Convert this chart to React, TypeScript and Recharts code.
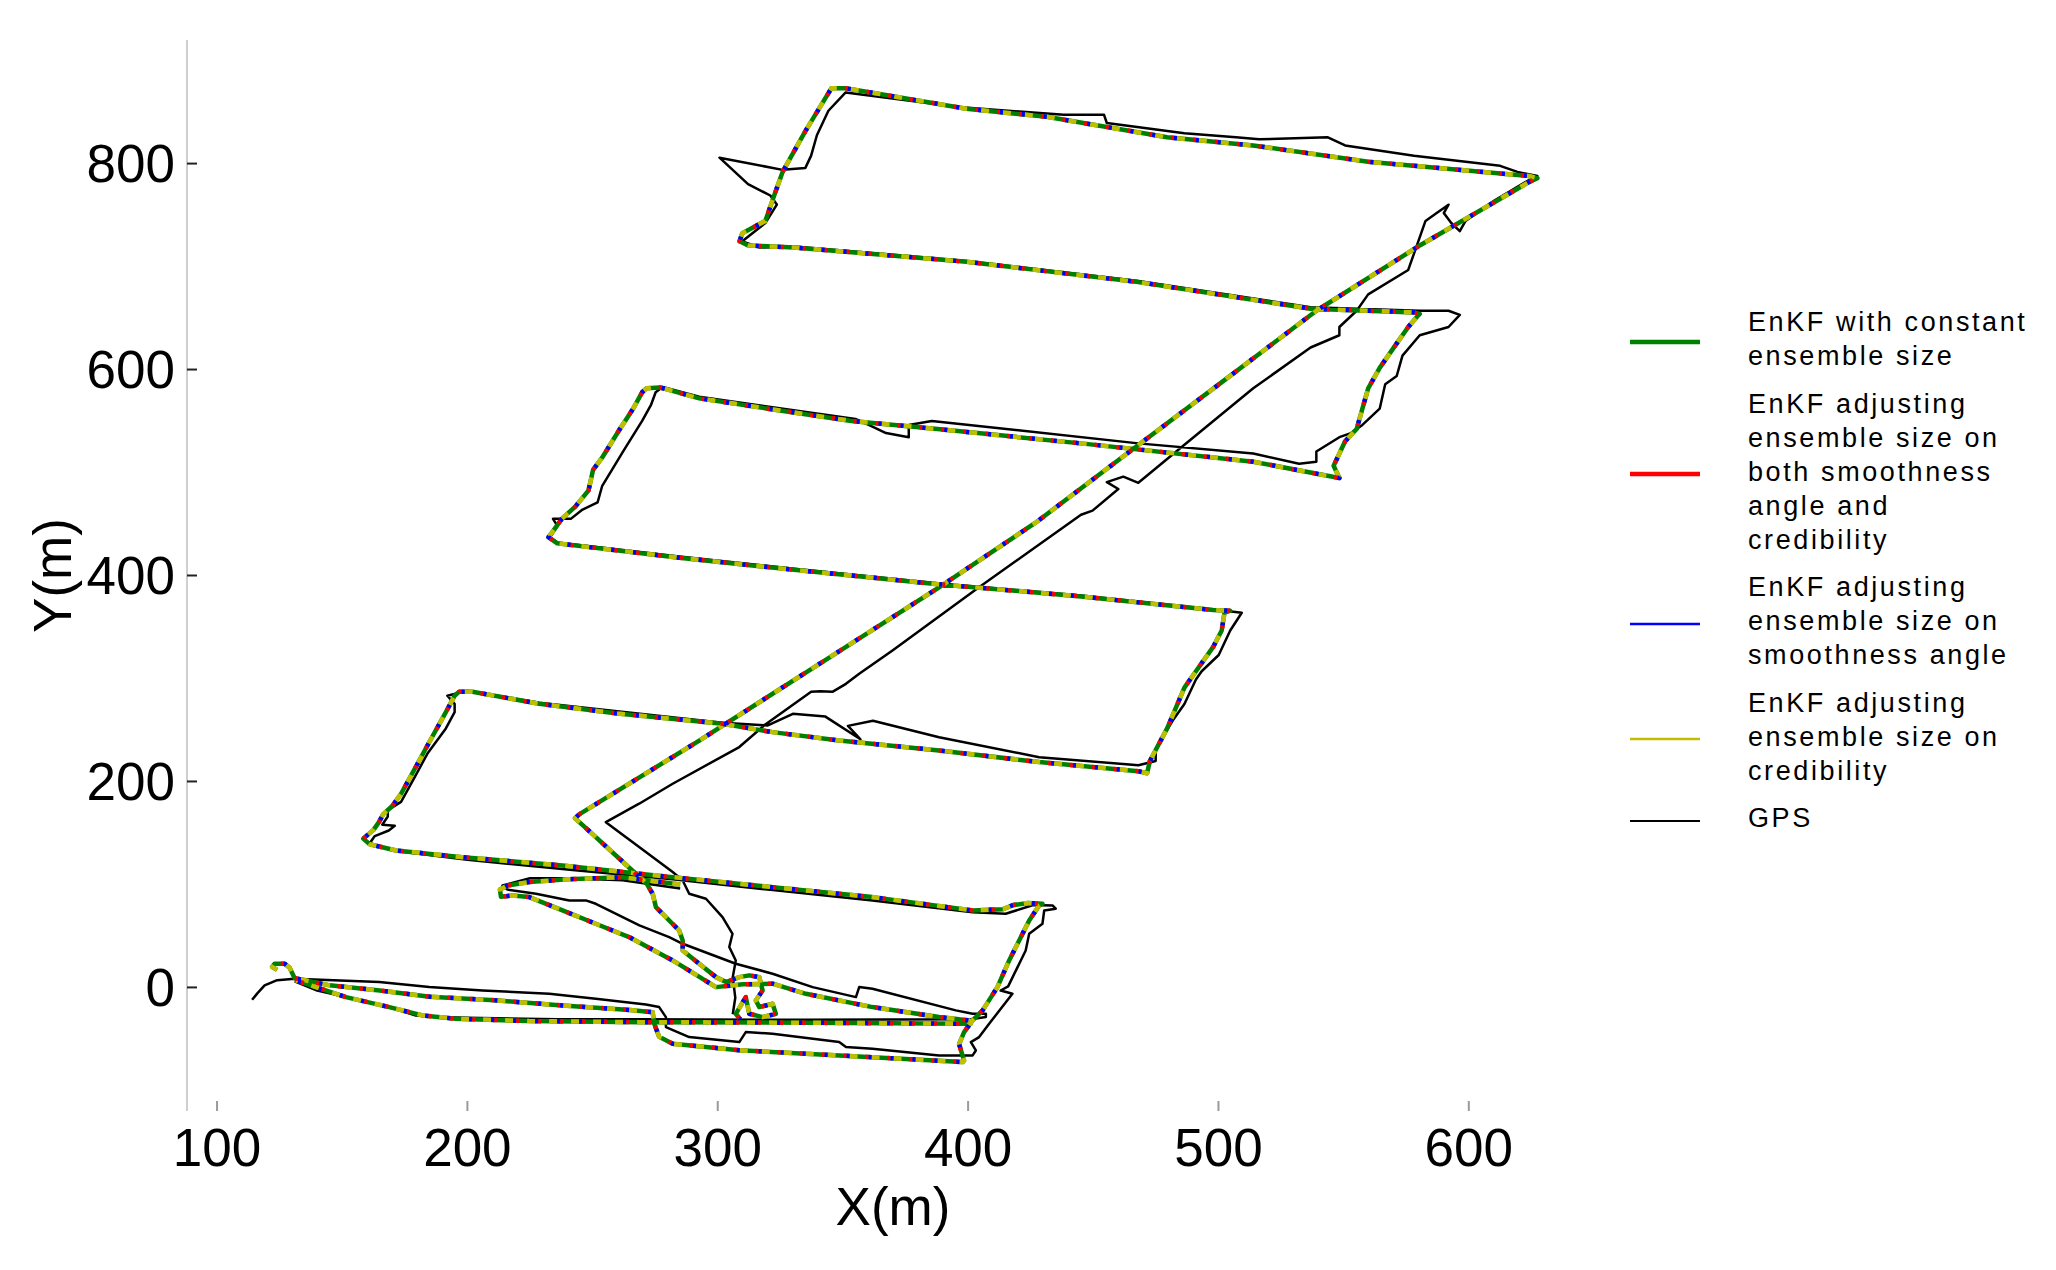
import React from 'react';
import { LineChart, Line, XAxis, YAxis, Label } from 'recharts';

// --- tick labels ---
const xTicks = [100, 200, 300, 400, 500, 600];
const yTicks = [0, 200, 400, 600, 800];

// --- filtered track (the four EnKF variants overlap almost exactly) ---
// outbound: start loop, bottom lanes, lawnmower lanes up to the top, diagonal back down
const enkfOutbound = [
  [124, 17], [122, 20], [123, 23], [127, 23], [129, 19], [131, 9],
  [145, 2], [165, -3], [185, -9], [211, -12.5], [238, -17.5], [265, -22], [274, -24],
  [274.6, -35], [276.6, -48], [282, -54.7],
  [308.6, -61], [348.5, -66], [397.8, -72.5],
  [398.4, -71], [396.4, -55], [398.4, -43.4], [401.8, -32], [405.8, -22.3], [411.7, 0.3], [416.4, 26.2],
  [420.4, 45.6], [424.4, 65], [428.4, 79.6], [429.7, 81.2],
  [424, 82], [418, 80], [414, 76],
  [401.8, 74.8], [361.8, 87.7], [321.9, 97.4], [282, 107.1], [268.7, 110.4], [238, 118.4], [198, 126.5],
  [171.5, 133], [161, 139], [158.4, 144.5],
  [162.5, 153], [164.6, 160.3], [166.4, 168.3], [170, 176.2], [173.5, 188.1], [178.9, 211.9], [184.2, 235.6],
  [191.4, 267.3], [194.9, 283.2], [196.7, 287.2], [202, 287.2],
  [228.7, 275.4], [260, 266], [301.9, 256], [321.9, 247.9], [348.5, 239.8], [388.4, 230.1], [428.4, 218.8],
  [468, 210], [471.5, 207.9],
  [472.6, 219.8], [479.5, 251.5], [486.4, 291.1], [491, 307], [497.9, 330.7], [501.3, 346.6], [502.4, 363.8], [504.7, 365.8],
  [497.9, 366.5], [445.1, 379.7], [387.8, 391.6], [330.5, 405.5], [284.6, 417.3], [235.9, 431.2], [232.4, 437.2],
  [234.2, 443.1], [237.7, 455], [243.1, 466.9], [248.4, 482.7], [250.2, 502.6], [253.8, 514.4], [260.9, 542.2],
  [266.2, 562], [269.8, 577.9], [271.6, 581.8], [276.9, 582.6],
  [292.6, 572], [320, 562], [353.4, 550.1], [387.8, 542.2], [445.1, 528.3], [513.9, 510.5], [548.3, 494.6],
  [546, 506.5], [550.6, 530.3], [555.2, 542.2], [557.5, 562], [559.8, 581.8], [564.4, 601.6], [571.2, 625.4],
  [575.8, 641.3], [579.3, 651.2], [580.4, 654],
  [578.1, 655.5], [536.8, 659.1], [468, 684.9], [399.3, 704.7], [330.5, 718.5], [312.1, 720.5], [308.7, 724.5],
  [309.8, 732.4], [319, 744.3], [322.4, 768.1], [325.9, 791.9], [335, 831.5], [341.9, 859.2], [345.4, 873.1],
  [351.1, 873.1], [399.3, 853.3], [431.4, 845.4], [479.5, 825.5], [513.9, 817.6], [559.8, 801.8], [624, 787.9], [627.4, 785.9],
  [624, 782], [580.4, 720.5], [539.1, 657.1], [502.4, 589.7], [463.5, 518.4], [426.8, 451], [387.8, 387.6],
  [340, 313.3], [292.6, 239.6], [244.8, 168.3], [243, 164.3],
  [246.6, 156.4], [266.2, 112.8], [271.6, 100.9], [274, 90.9], [275.3, 78], [284.6, 55.3], [286, 45.6], [286, 35.9],
  [292.6, 23], [299.3, 10], [303.3, 5.2],
  [308.6, 10], [312.6, 11.7], [316.6, 10], [317.9, -2.9], [315.2, -12.6], [316.6, -19.1], [321.9, -15.9],
  [323.2, -25.6], [317.9, -28.8], [312.6, -25.6], [311.2, -9.4], [307.2, -25.6], [309, -31],
];

// return leg: short piece under lane F, hook, south-east run, then west along y = -33
const enkfReturn = [
  [285, 100], [262, 107], [240, 105], [224.7, 102.3], [216, 99], [213, 95], [213.4, 88], [218, 89.3],
  [224.7, 87.7], [238, 74.8], [251.3, 61.8], [264.6, 48.9], [282, 26.2], [299.3, 0.3], [310, 3], [321.9, 3.6],
  [335.2, -6.2], [361.8, -19.1], [388.4, -28.8], [400.4, -32], [401, -35.3],
  [335.2, -34.3], [268.7, -33.7], [224.7, -32.7], [195.4, -30.4], [182.1, -27.2], [168.8, -19.1], [151.5, -9.4], [131.5, 6.8],
];

// --- GPS track ---
const gpsOutbound = [
  [114, -12], [116, -6], [119, 2], [124, 7], [131, 8.4], [164.8, 5.2], [184.8, 0.3], [206, -2.9], [232.7, -6.2],
  [251.3, -11], [271.3, -16.5], [276.6, -19.1], [279.3, -28.8], [279.3, -38.5], [288.6, -48.2], [308.6, -53.1],
  [311.2, -43.4], [321.9, -45], [348.5, -53.1], [351.2, -57.9], [361.8, -59.5], [388.4, -66], [401.8, -66],
  [403.1, -61.2], [401.1, -53.1], [404.4, -48.2], [408.4, -35.3], [417.7, -6.1], [413, -3], [416, 1], [423, 35.9],
  [424.4, 52.1], [429.7, 61.8], [430.4, 74.8], [435, 76.4], [433.7, 79.6], [426, 80], [415, 71.5], [401.8, 73.1],
  [361.8, 84.5], [322, 94.5], [282, 105], [242, 114], [200, 124], [170, 133], [161, 140], [163, 147], [168.6, 152.4],
  [171, 157], [166, 158], [168.2, 166], [168.2, 172.2], [173.5, 180.2], [178.9, 204], [184.2, 227.7], [191.4, 251.5],
  [194.9, 267.3], [194.9, 275.3], [192, 283.2], [200, 288],
  [228.7, 276.5], [301.9, 257], [320, 254.4], [330, 265.7], [343, 263], [357, 241], [352, 254], [362, 259],
  [388.4, 243], [428.4, 223.6], [468, 215.8], [474.9, 219.8], [475, 232], [481.8, 259.4], [486.4, 275.3], [491, 299],
  [493.3, 307], [500.1, 322.8], [504.7, 346.6], [509.3, 363.8], [500, 366.5],
  [445.1, 380.5], [387.8, 392.5], [330.5, 406.5], [284.6, 418.5], [236, 432], [233, 437], [236, 448], [234.2, 455],
  [241.3, 455], [246, 464], [252, 470.9], [253.8, 486.7], [262.7, 522.4], [269.8, 550.1], [273.4, 566], [275.2, 577.9], [278, 583],
  [292.6, 573.5], [355, 552], [360.3, 546.2], [367.2, 538.3], [376.3, 534.3], [376.3, 546.2], [385.5, 550.1], [468, 528.3],
  [513.9, 518.4], [532.2, 508.5], [539.1, 510.5], [539.1, 520.4], [548.3, 534.3], [552.9, 538.3], [557.5, 546.2],
  [564.4, 562], [566.6, 585.8], [571.2, 593.7], [573.5, 613.5], [580.4, 633.3], [591.9, 641.3], [596.4, 653.1],
  [591.9, 657.1], [580.4, 657.1],
  [536.8, 660.5], [468, 686], [399.3, 705.5], [330.5, 719.5], [316.7, 718.5], [309.8, 724.5], [319, 742.3], [323.6, 760.2],
  [321, 769], [312.1, 780], [300.7, 805.7], [325.9, 793.9], [335, 795.8], [337.3, 807.7], [339.6, 827.5], [344.2, 851.3], [351.1, 869.1],
  [394.7, 855.3], [438.2, 847.3], [454.3, 847.3], [455.4, 839.4], [486.4, 829.5], [507, 825.5], [516.2, 823.6],
  [543.7, 825.5], [550.6, 817.6], [578.1, 807.7], [612.5, 797.8], [619.4, 791.9], [627.4, 787.9],
  [624, 784], [610.2, 764.1], [598.7, 744.3], [596.4, 734.4], [593, 742.3], [590, 752], [591.9, 760.1], [587.3, 752.2],
  [582.7, 744.3], [578.1, 712.6], [575.8, 696.7], [559.8, 673], [555.2, 657.1], [548.3, 641.3], [548.3, 633.3],
  [536.8, 621.4], [513.9, 581.8], [484.1, 522.4], [468, 490], [462, 496], [455.4, 490.7], [460, 484], [449.7, 463],
  [445.1, 459], [403.8, 387.6], [369.8, 327.2], [356.5, 304.6], [351.2, 294.8], [345.8, 287], [341, 287.5], [337.3, 287.2],
  [319, 255.4], [308.6, 233.4], [282, 197.8], [268.6, 178.4], [255.3, 160.5], [268.6, 136.3], [282, 112], [286, 103.9],
  [288.6, 91], [295.3, 86.1], [301.9, 68.3], [305.9, 52.1], [304.6, 39.2], [307.2, 26.2], [306, 10], [307, -10], [306, -26],
];

const gpsReturn = [
  [285, 96], [262, 104], [240, 106], [225, 106], [214, 99], [216, 95], [227.4, 91], [240.7, 84.5], [247.3, 84.5],
  [251.3, 81.2], [268.7, 60.2], [280.6, 48.9], [286, 42.4], [307.2, 23], [321.9, 13.3], [337.9, 0.3], [355.2, -9.4],
  [356.5, 0.3], [361.8, -1.3], [395.1, -22.3], [401.8, -25.6], [407.1, -25.6], [407.1, -28.8], [401, -31],
  [335, -31.5], [269, -31], [236, -31], [200, -29.5], [187.4, -28.8], [179.4, -27.2], [168.8, -19], [151.5, -9.4],
  [140, -3], [131, 6],
];

const toPoints = (rows: number[][]) => rows.map(([x, y]) => ({ x, y }));

const FONT = '"Liberation Sans", Arial, Helvetica, sans-serif';
const X_DOMAIN = [88, 652];
const Y_DOMAIN = [-120, 920];

// drawn in this order on top of each other, dashes offset so all four colours show
const enkfSeries = [
  { id: 'constant', color: '#008000', dash: undefined, offset: 0 },
  { id: 'credibility', color: '#bfbf00', dash: '8 14', offset: 0 },
  { id: 'both', color: '#ff0000', dash: '3 19', offset: -16 },
  { id: 'angle', color: '#0000ff', dash: '3 19', offset: -19 },
];

const legendItems = [
  { lines: ['EnKF with constant', 'ensemble size'], color: '#008000', width: 4.5 },
  { lines: ['EnKF adjusting', 'ensemble size on', 'both smoothness', 'angle and', 'credibility'], color: '#ff0000', width: 4.5 },
  { lines: ['EnKF adjusting', 'ensemble size on', 'smoothness angle'], color: '#0000ff', width: 2.6 },
  { lines: ['EnKF adjusting', 'ensemble size on', 'credibility'], color: '#bfbf00', width: 2.4 },
  { lines: ['GPS'], color: '#000000', width: 2.2 },
];

export default function App() {
  const enkfParts = [toPoints(enkfOutbound), toPoints(enkfReturn)];
  const gpsParts = [toPoints(gpsOutbound), toPoints(gpsReturn)];

  return (
    <div style={{ position: 'absolute', left: 0, top: 0, width: 2056, height: 1270, background: '#fff', fontFamily: FONT }}>
      <LineChart width={2056} height={1270} margin={{ top: 39, right: 456, bottom: 0, left: 0 }}>
        <XAxis
          type="number"
          dataKey="x"
          domain={X_DOMAIN}
          ticks={xTicks}
          interval={0}
          allowDataOverflow
          height={159}
          axisLine={false}
          tickSize={-10}
          tickMargin={27}
          tickLine={{ stroke: '#9a9a9a', strokeWidth: 2 }}
          tick={{ fontSize: 53, fill: '#000', fontFamily: FONT }}
        >
          <Label value="X(m)" position="insideTop" offset={76} fontSize={53} fill="#000" fontFamily={FONT} />
        </XAxis>
        <XAxis
          xAxisId="top"
          orientation="top"
          type="number"
          dataKey="x"
          domain={X_DOMAIN}
          ticks={xTicks}
          interval={0}
          allowDataOverflow
          height={1}
          axisLine={false}
          tick={false}
          tickSize={-11}
          tickLine={{ stroke: '#9a9a9a', strokeWidth: 2 }}
        />
        <YAxis
          type="number"
          dataKey="y"
          domain={Y_DOMAIN}
          ticks={yTicks}
          interval={0}
          allowDataOverflow
          width={187}
          axisLine={{ stroke: '#cfcfcf', strokeWidth: 2 }}
          tickSize={-10}
          tickMargin={22}
          tickLine={{ stroke: '#222', strokeWidth: 2 }}
          tick={{ fontSize: 53, fill: '#000', fontFamily: FONT }}
        >
          <Label
            value="Y(m)"
            angle={-90}
            position="insideLeft"
            offset={52}
            fontSize={53}
            fill="#000"
            fontFamily={FONT}
            style={{ textAnchor: 'middle' }}
          />
        </YAxis>
        <YAxis
          yAxisId="right"
          orientation="right"
          type="number"
          domain={Y_DOMAIN}
          ticks={yTicks}
          interval={0}
          allowDataOverflow
          width={1}
          axisLine={false}
          tick={false}
          tickSize={-10}
          tickLine={{ stroke: '#333', strokeWidth: 2 }}
        />

        {gpsParts.map((d, i) => (
          <Line
            key={`gps-${i}`}
            data={d}
            dataKey="y"
            type="linear"
            stroke="#000"
            strokeWidth={2.5}
            strokeLinejoin="round"
            dot={false}
            activeDot={false}
            isAnimationActive={false}
          />
        ))}
        {enkfSeries.map((s) =>
          enkfParts.map((d, i) => (
            <Line
              key={`${s.id}-${i}`}
              data={d}
              dataKey="y"
              type="linear"
              stroke={s.color}
              strokeWidth={4.5}
              strokeDasharray={s.dash}
              strokeDashoffset={s.offset}
              strokeLinejoin="round"
              dot={false}
              activeDot={false}
              isAnimationActive={false}
            />
          ))
        )}
      </LineChart>

      <div style={{ position: 'absolute', left: 1630, top: 305, display: 'flex', flexDirection: 'column', gap: 13.5 }}>
        {legendItems.map((item, i) => (
          <div key={i} style={{ display: 'flex', alignItems: 'center' }}>
            <svg width={70} height={10} style={{ marginTop: 5, flex: 'none' }}>
              <line x1={0} x2={70} y1={5} y2={5} stroke={item.color} strokeWidth={item.width} />
            </svg>
            <div style={{ marginLeft: 48, fontSize: 27, lineHeight: '34px', letterSpacing: 2.6, color: '#000', whiteSpace: 'nowrap' }}>
              {item.lines.map((l, j) => (
                <div key={j}>{l}</div>
              ))}
            </div>
          </div>
        ))}
      </div>
    </div>
  );
}
